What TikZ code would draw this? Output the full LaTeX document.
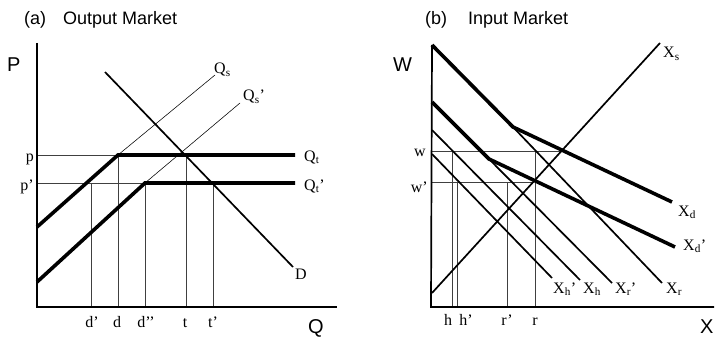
\documentclass[tikz,border=0pt]{standalone}
\usepackage{fontspec}
\setmainfont{Liberation Serif}
\newfontfamily\arialf{Liberation Sans}
\begin{document}
\begin{tikzpicture}[x=1pt,y=-1pt,
  thickln/.style={line width=3.6pt},
  medln/.style={line width=1.7pt},
  thinln/.style={line width=0.55pt},
  guide/.style={line width=0.6pt, black!75},
  axisln/.style={line width=1.7pt},
  lab/.style={font=\fontsize{16}{16}\selectfont, inner sep=0pt},
  big/.style={font=\arialf\fontsize{20}{20}\selectfont, inner sep=0pt},
  ttl/.style={font=\arialf\fontsize{18}{18}\selectfont, inner sep=0pt}]
\useasboundingbox (0,0) rectangle (716,337);

% ================= Panel (a) =================
\node[ttl, anchor=base west] (ta1) at (24,25) {(a)};
\node[ttl, anchor=base west] (ta2) at (63,25) {Output Market};

\coordinate (aTop) at (37,43);
\coordinate (aO) at (37,307);
\coordinate (aRight) at (337,307);
\coordinate (aP) at (37,155);
\coordinate (aPp) at (37,183);
\coordinate (A1) at (37,227);
\coordinate (K1) at (118,155);
\coordinate (E1) at (295,155);
\coordinate (A2) at (37,282);
\coordinate (K2) at (145,183);
\coordinate (E2) at (295,183);
\coordinate (S1) at (215,75);
\coordinate (S2) at (240,103);
\coordinate (D1) at (105,72);
\coordinate (D2) at (293,267);
\coordinate (vdpT) at (91,183);  \coordinate (vdpB) at (91,307);
\coordinate (vdT) at (118,155);  \coordinate (vdB) at (118,307);
\coordinate (vddT) at (145,183); \coordinate (vddB) at (145,307);
\coordinate (vtT) at (186,155);  \coordinate (vtB) at (186,307);
\coordinate (vtpT) at (213,183); \coordinate (vtpB) at (213,307);

% guides
\draw[guide] (aP) -- (K1);
\draw[guide] (aPp) -- (K2);
\draw[guide] (vdpT) -- (vdpB);
\draw[guide] (vdT) -- (vdB);
\draw[guide] (vddT) -- (vddB);
\draw[guide] (vtT) -- (vtB);
\draw[guide] (vtpT) -- (vtpB);

% supply thin lines
\draw[thinln] (K1) -- (S1);
\draw[thinln] (K2) -- (S2);

% demand
\draw[medln] (D1) -- (D2);

% thick kinked curves
\draw[thickln] (A1) -- (K1) -- (E1);
\draw[thickln] (A2) -- (K2) -- (E2);

% axes
\draw[axisln] (aTop) -- (aO) -- (aRight);

% labels
\node[big, anchor=base west] (lP) at (7,72) {P};
\node[big, anchor=base west] (lQ) at (308,333) {Q};
\node[lab, anchor=base east] (lp) at (34,161) {p};
\node[lab, anchor=base east] (lpp) at (34,190) {p'};
\node[lab, anchor=base west] (lQt) at (304,161) {Q\textsubscript{t}};
\node[lab, anchor=base west] (lQtp) at (304,190) {Q\textsubscript{t}'};
\node[lab, anchor=base west] (lQs) at (214,74) {Q\textsubscript{s}};
\node[lab, anchor=base west] (lQsp) at (243,101) {Q\textsubscript{s}'};
\node[lab, anchor=base west] (lD) at (295,279) {D};
\node[lab, anchor=base] (ldp) at (92,327) {d'};
\node[lab, anchor=base] (ld) at (117,327) {d};
\node[lab, anchor=base] (ldd) at (146,327) {d{'}{'}};
\node[lab, anchor=base] (lt) at (185,327) {t};
\node[lab, anchor=base] (ltp) at (213,327) {t'};

% ================= Panel (b) =================
\node[ttl, anchor=base west] (tb1) at (425,25) {(b)};
\node[ttl, anchor=base west] (tb2) at (468,25) {Input Market};

\coordinate (bTop) at (432,45);
\coordinate (bO) at (431,307);
\coordinate (bRight) at (714,307);
\coordinate (bW) at (431,151);
\coordinate (bWp) at (431,182);
\coordinate (Wend) at (561,151);
\coordinate (Wpend) at (534,182);
\coordinate (XsA) at (432,293);
\coordinate (XsB) at (660,43);
\coordinate (XdA) at (432,45);
\coordinate (XdK) at (513,127);
\coordinate (XdB) at (672,202);
\coordinate (XdpA) at (432,102);
\coordinate (XdpK) at (489,159);
\coordinate (XdpB) at (675,247);
\coordinate (XrB) at (662,283);
\coordinate (XrpB) at (612,283);
\coordinate (XhA) at (432,130);
\coordinate (XhB) at (580,280);
\coordinate (XhpA) at (432,154);
\coordinate (XhpB) at (552,278);
\coordinate (vhT) at (452,151);  \coordinate (vhB) at (452,307);
\coordinate (vhpT) at (457,182); \coordinate (vhpB) at (457,307);
\coordinate (vrpT) at (507,182); \coordinate (vrpB) at (507,307);
\coordinate (vrT) at (535,151);  \coordinate (vrB) at (535,307);

% guides
\draw[guide] (bW) -- (Wend);
\draw[guide] (bWp) -- (Wpend);
\draw[guide] (vhT) -- (vhB);
\draw[guide] (vhpT) -- (vhpB);
\draw[guide] (vrpT) -- (vrpB);
\draw[guide] (vrT) -- (vrB);

% medium lines
\draw[medln] (XsA) -- (XsB);
\draw[medln] (XdK) -- (XrB);
\draw[medln] (XdpK) -- (XrpB);
\draw[medln] (XhA) -- (XhB);
\draw[medln] (XhpA) -- (XhpB);

% thick lines
\draw[thickln] (XdA) -- (XdK) -- (XdB);
\draw[thickln] (XdpA) -- (XdpK) -- (XdpB);

% axes
\draw[axisln] (bTop) -- (bO) -- (bRight);

% labels
\node[big, anchor=base west] (lW) at (393,72) {W};
\node[big, anchor=base west] (lX) at (700,333) {X};
\node[lab, anchor=base east] (lw) at (426,157) {w};
\node[lab, anchor=base east] (lwp) at (428,193) {w'};
\node[lab, anchor=base west] (lXs) at (663,58) {X\textsubscript{s}};
\node[lab, anchor=base west] (lXd) at (678,216) {X\textsubscript{d}};
\node[lab, anchor=base west] (lXdp) at (683,250) {X\textsubscript{d}'};
\node[lab, anchor=base west] (lXr) at (666,293) {X\textsubscript{r}};
\node[lab, anchor=base west] (lXrp) at (615,293) {X\textsubscript{r}'};
\node[lab, anchor=base west] (lXh) at (583,293) {X\textsubscript{h}};
\node[lab, anchor=base west] (lXhp) at (553,293) {X\textsubscript{h}'};
\node[lab, anchor=base] (lh) at (448,325) {h};
\node[lab, anchor=base] (lhp) at (466,325) {h'};
\node[lab, anchor=base] (lrp) at (507,325) {r'};
\node[lab, anchor=base] (lr) at (535,325) {r};
\end{tikzpicture}
\end{document}
